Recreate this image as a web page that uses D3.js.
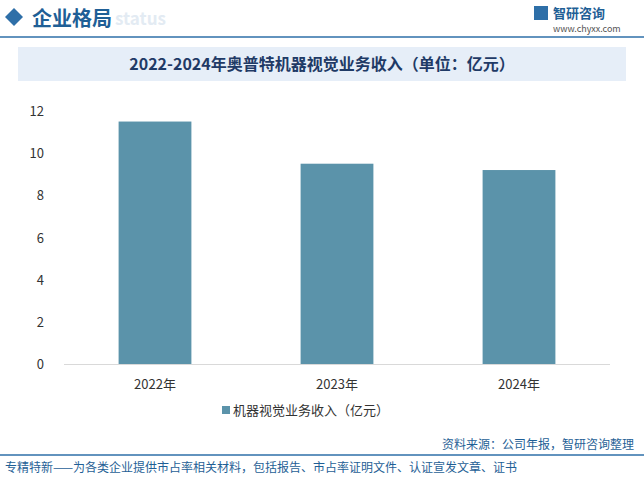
<!DOCTYPE html><html><head><meta charset="utf-8"><script src="https://cdn.jsdelivr.net/npm/d3@7"></script>
<style>body{margin:0;background:#fff;font-family:"Noto Sans CJK SC",sans-serif}</style></head><body><svg id="c" width="644" height="481"></svg>
<script>
const categories=["2022年","2023年","2024年"];
const values=[11.5,9.5,9.2];
const ticks=[0,2,4,6,8,10,12];
const svg=d3.select("#c");
// header
svg.append("rect").attr("x",0).attr("y",0).attr("width",644).attr("height",36).attr("fill","#fff");
svg.append("path").attr("d","M14,8 L23,17 L14,26 L5,17Z").attr("fill","#2e6fa8");
svg.append("text").attr("x",32).attr("y",26).text("企业格局").attr("font-size",20).attr("font-weight","bold").attr("fill","#1f5f96");
svg.append("text").attr("x",115).attr("y",25).text("status").attr("font-size",17).attr("font-weight","bold").attr("fill","#e3ebf3");
svg.append("line").attr("x1",0).attr("x2",644).attr("y1",37).attr("y2",37).attr("stroke","#2e6fa8").attr("stroke-width",1.5);
svg.append("text").attr("x",553).attr("y",18).text("智研咨询").attr("font-size",13).attr("font-weight","bold").attr("fill","#1f5f96");
svg.append("rect").attr("x",534).attr("y",6).attr("width",14).attr("height",14).attr("fill","#2e6fa8");
svg.append("text").attr("x",553).attr("y",32).text("www.chyxx.com").attr("font-size",9).attr("fill","#555");
// title band
svg.append("rect").attr("x",18).attr("y",47).attr("width",608).attr("height",34).attr("fill","#e6eef8");
svg.append("text").attr("x",322).attr("y",70).attr("text-anchor","middle").text("2022-2024年奥普特机器视觉业务收入（单位：亿元）").attr("font-size",16).attr("font-weight","bold").attr("fill","#1f3a66");
const x=d3.scaleBand().domain(categories).range([64,610]).paddingInner(0.6).paddingOuter(0.3);
const y=d3.scaleLinear().domain([0,12]).range([364,111]);
svg.selectAll(".b").data(values).join("rect").attr("x",(d,i)=>x(categories[i])).attr("width",x.bandwidth()).attr("y",d=>y(d)).attr("height",d=>364-y(d)).attr("fill","#5b93aa");
svg.append("line").attr("x1",64).attr("x2",610).attr("y1",364.5).attr("y2",364.5).attr("stroke","#d9d9d9");
svg.selectAll(".t").data(ticks).join("text").attr("x",44).attr("y",d=>y(d)+5).attr("text-anchor","end").text(d=>d).attr("font-size",13).attr("fill","#333");
svg.selectAll(".c").data(categories).join("text").attr("x",d=>x(d)+x.bandwidth()/2).attr("y",389).attr("text-anchor","middle").text(d=>d).attr("font-size",13).attr("fill","#333");
svg.append("rect").attr("x",222).attr("y",406).attr("width",8).attr("height",8).attr("fill","#5b93aa");
svg.append("text").attr("x",233).attr("y",415).text("机器视觉业务收入（亿元）").attr("font-size",13).attr("fill","#333");
svg.append("text").attr("x",634).attr("y",449).attr("text-anchor","end").text("资料来源：公司年报，智研咨询整理").attr("font-size",12).attr("fill","#1f5f96");
svg.append("line").attr("x1",0).attr("x2",644).attr("y1",455).attr("y2",455).attr("stroke","#2e6fa8").attr("stroke-width",1.5);
svg.append("text").attr("x",5).attr("y",472).text("专精特新——为各类企业提供市占率相关材料，包括报告、市占率证明文件、认证宣发文章、证书").attr("font-size",12).attr("fill","#1f5f96");
</script></body></html>
